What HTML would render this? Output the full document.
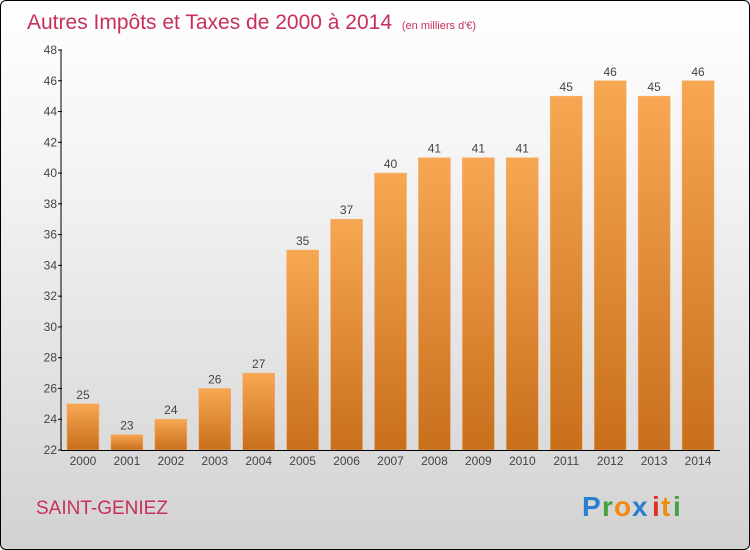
<!DOCTYPE html>
<html><head><meta charset="utf-8"><style>
body{margin:0;width:750px;height:550px;overflow:hidden;font-family:"Liberation Sans",sans-serif}
#frame{position:absolute;left:0;top:0;width:748px;height:548px;border:1px solid #000;border-radius:6px;background:linear-gradient(#ffffff,#f4f4f4 30%,#d2d2d2)}
</style></head><body>
<div id="frame"></div>
<svg id="chart" width="750" height="550" style="position:absolute;left:0;top:0">
<defs><linearGradient id="bg" x1="0" y1="0" x2="0" y2="1"><stop offset="0" stop-color="#f7a752"/><stop offset="1" stop-color="#c86f1c"/></linearGradient></defs>
<text x="27" y="29" font-size="21" fill="#c8305a">Autres Impôts et Taxes de 2000 à 2014 <tspan font-size="11" dx="4">(en milliers d'€)</tspan></text>
<g id="bars"></g><g id="axes"></g>
<text x="36" y="514" font-size="19" fill="#c8305a">SAINT-GENIEZ</text>
<g font-size="28" font-weight="bold" font-family="'Liberation Sans',sans-serif">
<text x="582" y="516" fill="#2a7fd0">P</text><text x="602" y="516" fill="#4aa040">r</text><text x="614" y="516" fill="#f08a10">o</text><text x="632" y="516" fill="#2a7fd0">x</text><text x="652" y="516" fill="#e03020">i</text><text x="661" y="516" fill="#f08a10">t</text><text x="673" y="516" fill="#4aa040">i</text></g>
</svg>
<script>
const years=["2000","2001","2002","2003","2004","2005","2006","2007","2008","2009","2010","2011","2012","2013","2014"];
const values=[25,23,24,26,27,35,37,40,41,41,41,45,46,45,46];
const yTicks=[22,24,26,28,30,32,34,36,38,40,42,44,46,48];
const NS="http://www.w3.org/2000/svg";
const y0=450,y1=50,vmin=22,vmax=48,xl=61,xr=720;
const ys=v=>y0-(v-vmin)/(vmax-vmin)*(y0-y1);
const step=(xr-xl)/years.length;
const xc=i=>xl+step*(i+0.5);
function mk(t,a,p){const e=document.createElementNS(NS,t);for(const k in a)e.setAttribute(k,a[k]);p.appendChild(e);return e;}
const bars=document.getElementById('bars'),axes=document.getElementById('axes');
values.forEach((v,i)=>{
 const r=mk('rect',{x:xc(i)-16,y:ys(v),width:32,height:y0-ys(v),fill:'url(#bg)',stroke:'#f5b070','stroke-width':0.5},bars);
 
 
 const t=mk('text',{x:xc(i),y:ys(v)-5,'text-anchor':'middle','font-size':12,fill:'#444'},bars);t.textContent=v;
 
 
 const l=mk('text',{x:xc(i),y:y0+15,'text-anchor':'middle','font-size':12,fill:'#444'},axes);l.textContent=years[i];
 
 
});
const ya=mk('line',{x1:xl,y1:y1,x2:xl,y2:y0,stroke:'#000'},axes);


const xa=mk('line',{x1:xl,y1:y0+0.5,x2:xr,y2:y0+0.5,stroke:'#000'},axes);


yTicks.forEach(v=>{
 mk('line',{x1:xl-3,y1:ys(v),x2:xl+1,y2:ys(v),stroke:'#000'},axes);
 const t=mk('text',{x:xl-4,y:ys(v)+4,'text-anchor':'end','font-size':12,fill:'#444'},axes);t.textContent=v;
 
 
});
</script>
</body></html>
